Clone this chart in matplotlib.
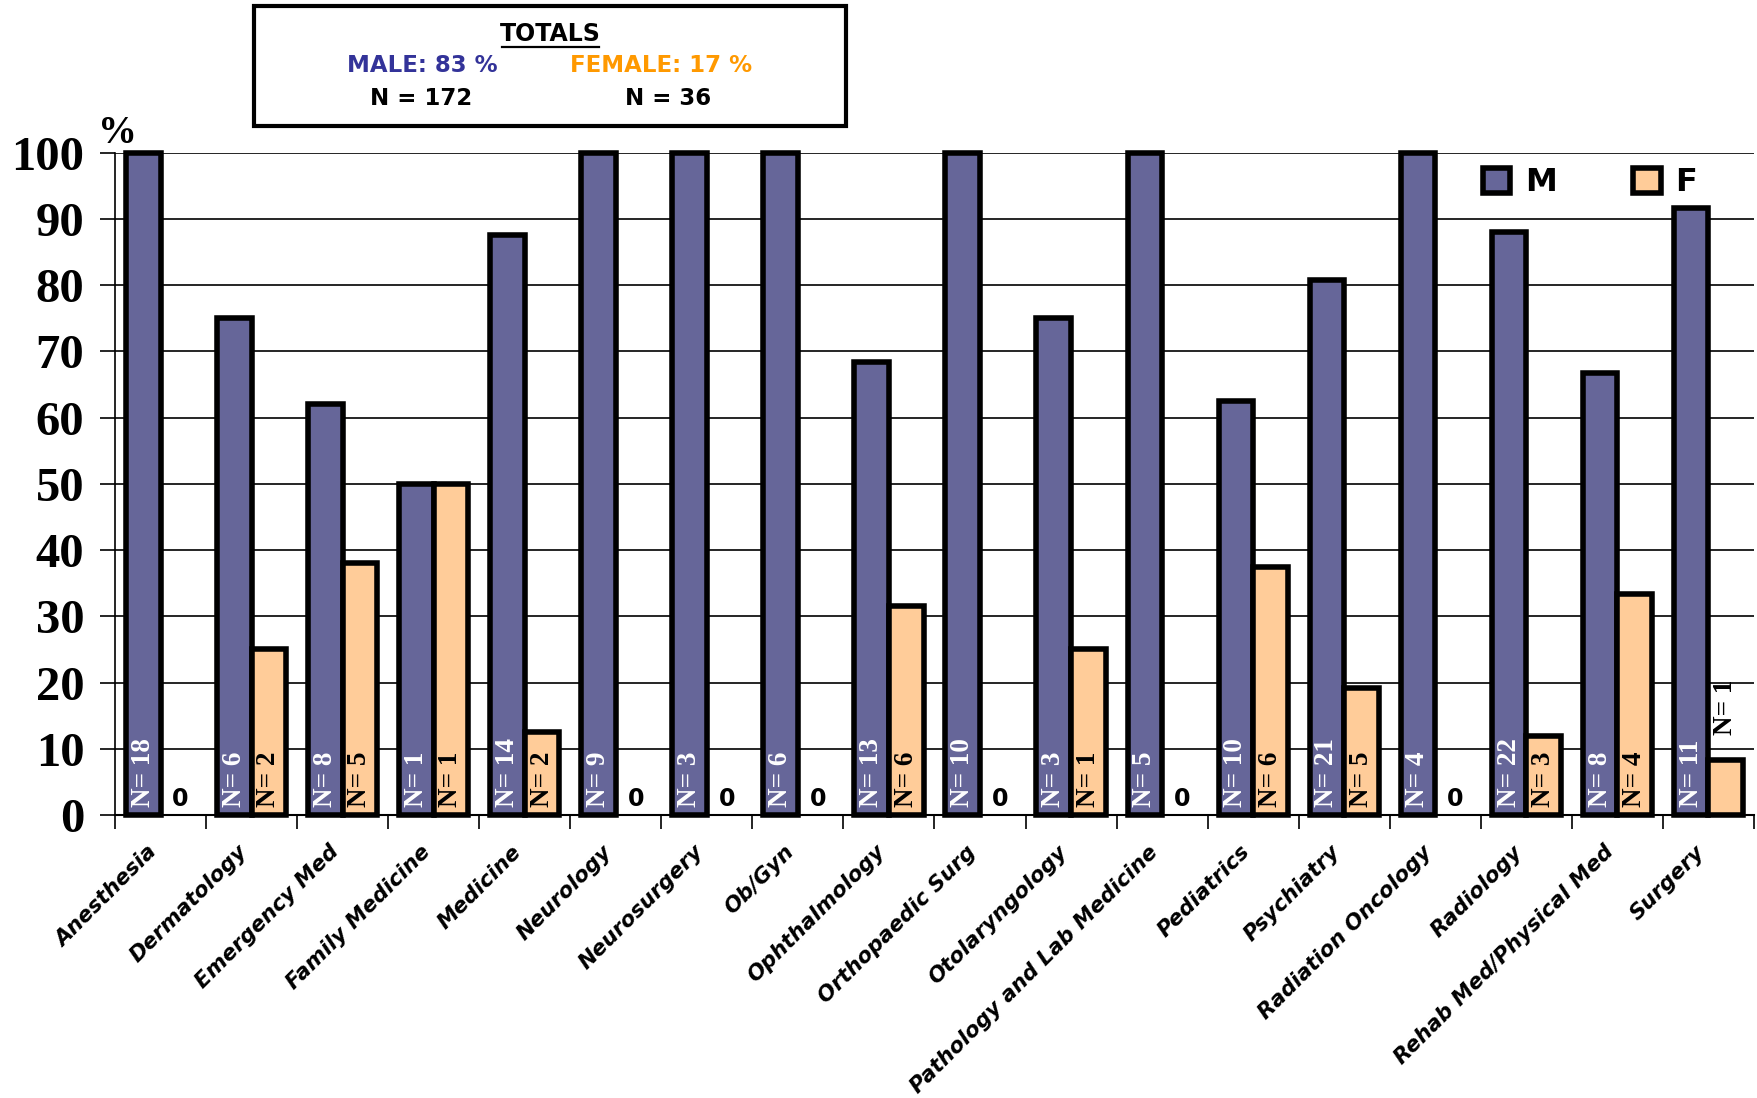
import matplotlib
matplotlib.use("Agg")
import matplotlib.pyplot as plt
from matplotlib.patches import Rectangle, Patch
from matplotlib.lines import Line2D
import matplotlib.transforms as mtransforms
import numpy as np

categories = ["Anesthesia", "Dermatology", "Emergency Med", "Family Medicine", "Medicine",
              "Neurology", "Neurosurgery", "Ob/Gyn", "Ophthalmology", "Orthopaedic Surg",
              "Otolaryngology", "Pathology and Lab Medicine", "Pediatrics", "Psychiatry",
              "Radiation Oncology", "Radiology", "Rehab Med/Physical Med", "Surgery"]
male_pct = [100, 75, 62, 50, 87.5, 100, 100, 100, 68.4, 100, 75, 100, 62.5, 80.8, 100, 88, 66.7, 91.7]
female_pct = [0, 25, 38, 50, 12.5, 0, 0, 0, 31.6, 0, 25, 0, 37.5, 19.2, 0, 12, 33.3, 8.3]
male_n = [18, 6, 8, 1, 14, 9, 3, 6, 13, 10, 3, 5, 10, 21, 4, 22, 8, 11]
female_n = [0, 2, 5, 1, 2, 0, 0, 0, 6, 0, 1, 0, 6, 5, 0, 3, 4, 1]
yticks = [0, 10, 20, 30, 40, 50, 60, 70, 80, 90, 100]

M_COLOR = "#666699"
F_COLOR = "#FFCC99"
EDGE_W = 4.0

fig = plt.figure(figsize=(17.58, 10.98), dpi=100)
ax = fig.add_axes([0.0654, 0.2577, 0.9323, 0.6034])

x = np.arange(len(categories))
w = 0.38
ax.bar(x - w / 2, male_pct, w, color=M_COLOR, edgecolor="black",
       linewidth=[EDGE_W if v > 0 else 0 for v in male_pct], zorder=3, clip_on=False)
ax.bar(x + w / 2, female_pct, w, color=F_COLOR, edgecolor="black",
       linewidth=[EDGE_W if v > 0 else 0 for v in female_pct], zorder=3, clip_on=False)

serif = "Liberation Serif"
for i in range(len(categories)):
    ax.text(x[i] - w / 2, 1.2, f"N= {male_n[i]}", rotation=90, ha="center", va="bottom",
            color="white", fontsize=19.5, fontweight="bold", family=serif, zorder=5)
    if female_n[i] == 0:
        ax.text(x[i] + w / 2 + 0.03, 0.6, "0", ha="center", va="bottom", color="black",
                fontsize=17, fontweight="bold", zorder=5)
    elif female_pct[i] < 10:
        ax.text(x[i] + w / 2, female_pct[i] + 3.8, f"N= {female_n[i]}", rotation=90,
                ha="center", va="bottom", color="black", fontsize=19.5, fontweight="bold",
                family=serif, zorder=5)
    else:
        ax.text(x[i] + w / 2, 1.2, f"N= {female_n[i]}", rotation=90, ha="center", va="bottom",
                color="black", fontsize=19.5, fontweight="bold", family=serif, zorder=5)

ax.set_xlim(-0.5, len(categories) - 0.5)
ax.set_ylim(0, 100)
ax.set_yticks(yticks)
ax.set_yticklabels([str(v) for v in yticks], fontsize=35, fontweight="bold", family=serif)
ax.yaxis.grid(True, color="black", linewidth=1.2, zorder=0)
ax.set_axisbelow(True)
ax.tick_params(axis="y", length=11, width=1.2, pad=11, direction="out")

ax.set_xticks(x)
ax.set_xticklabels(categories, rotation=45, ha="right", va="top", rotation_mode="anchor",
                   fontsize=15.5, fontweight="bold", style="italic")
ax.tick_params(axis="x", which="major", length=0, pad=22)
offset = mtransforms.ScaledTranslation(-14 / 100, 4 / 100, fig.dpi_scale_trans)
for lbl in ax.get_xticklabels():
    lbl.set_transform(lbl.get_transform() + offset)
ax.set_xticks(np.arange(len(categories) + 1) - 0.5, minor=True)
ax.tick_params(axis="x", which="minor", length=10, width=1.2, direction="out")

for s in ["top", "right"]:
    ax.spines[s].set_visible(False)
ax.spines["left"].set_linewidth(1.2)
ax.spines["bottom"].set_linewidth(1.5)

fig.text(0.067, 0.878, "%", fontsize=28, fontweight="bold", family=serif, ha="center", va="center")

handles = [Patch(facecolor=M_COLOR, edgecolor="black", linewidth=EDGE_W, label="M"),
           Patch(facecolor=F_COLOR, edgecolor="black", linewidth=EDGE_W, label="F")]
ax.legend(handles=handles, loc="center", bbox_to_anchor=(0.900, 0.954), ncol=2, frameon=False,
          handlelength=0.85, handleheight=0.85, handletextpad=0.45, columnspacing=2.4,
          prop={"size": 23, "weight": "bold"})

# Totals box
fig.add_artist(Rectangle((0.1445, 0.885), 0.3365, 0.1095, transform=fig.transFigure,
                         fill=False, edgecolor="black", linewidth=3, zorder=10))
fig.text(0.3128, 0.969, "TOTALS", fontsize=17, fontweight="bold", ha="center", va="center")
fig.add_artist(Line2D([0.2855, 0.3405], [0.9575, 0.9575], transform=fig.transFigure,
                      color="black", linewidth=1.6))
fig.text(0.2405, 0.940, "MALE: 83 %", fontsize=16.5, fontweight="bold", color="#333399",
         ha="center", va="center")
fig.text(0.376, 0.940, "FEMALE: 17 %", fontsize=16.5, fontweight="bold", color="#FF9900",
         ha="center", va="center")
fig.text(0.2395, 0.910, "N = 172", fontsize=16.5, fontweight="bold", ha="center", va="center")
fig.text(0.380, 0.910, "N = 36", fontsize=16.5, fontweight="bold", ha="center", va="center")

fig.savefig("out.png", dpi=100)
